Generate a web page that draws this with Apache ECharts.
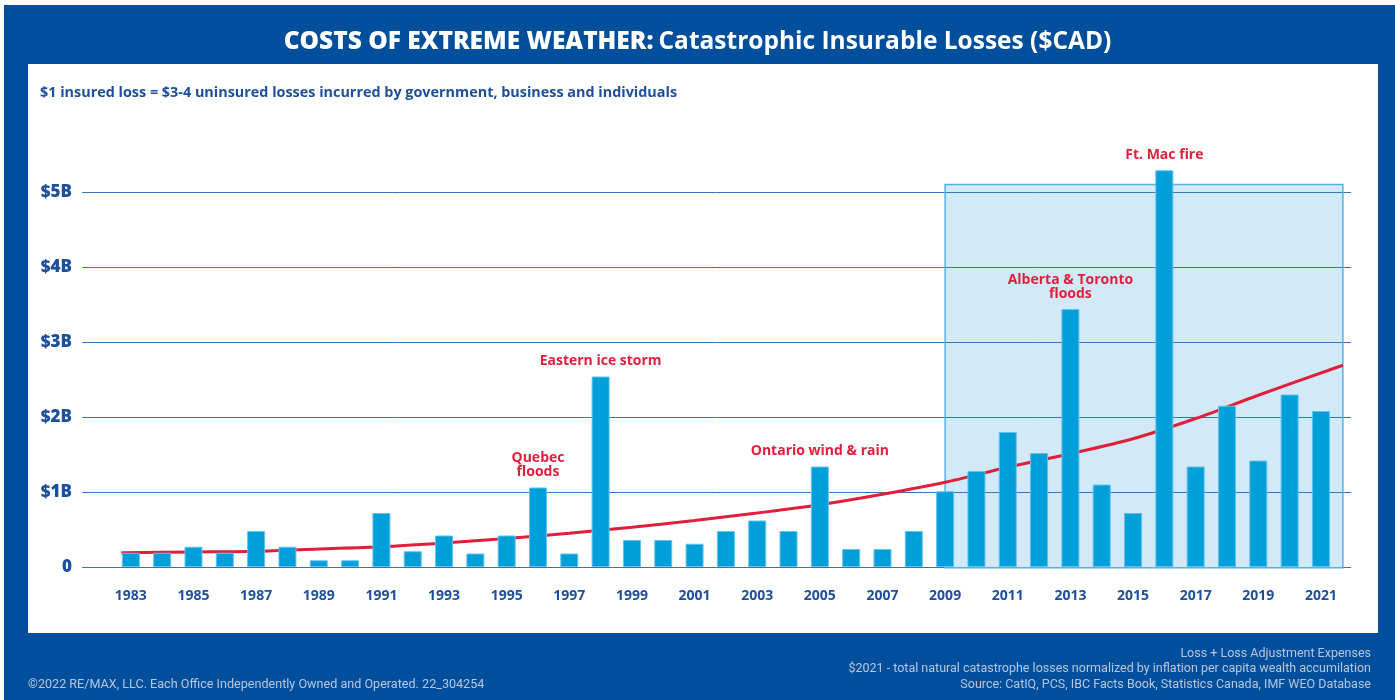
<!DOCTYPE html>
<html>
<head>
<meta charset="utf-8">
<script src="https://cdn.jsdelivr.net/npm/echarts@6/dist/echarts.min.js"></script>
<style>
  html, body { margin: 0; padding: 0; background: #004f9c; }
  #chart { width: 1395px; height: 700px; }
</style>
</head>
<body>
<div id="chart"></div>
<script>
// years and losses ($B, 2021 dollars)
var years = [1983, 1984, 1985, 1986, 1987, 1988, 1989, 1990, 1991, 1992,
  1993, 1994, 1995, 1996, 1997, 1998, 1999, 2000, 2001, 2002,
  2003, 2004, 2005, 2006, 2007, 2008, 2009, 2010, 2011, 2012,
  2013, 2014, 2015, 2016, 2017, 2018, 2019, 2020, 2021];
var losses = [0.19, 0.19, 0.27, 0.19, 0.48, 0.27, 0.09, 0.09, 0.72, 0.21,
  0.42, 0.18, 0.42, 1.06, 0.18, 2.54, 0.36, 0.36, 0.31, 0.48,
  0.62, 0.48, 1.34, 0.24, 0.24, 0.48, 1.01, 1.28, 1.80, 1.52,
  3.44, 1.10, 0.72, 5.29, 1.34, 2.15, 1.42, 2.30, 2.08];

// red trend curve
var trendYears = [1982.7, 1985, 1987, 1989, 1991, 1993, 1995, 1997, 1999, 2001,
  2003, 2005, 2007, 2009, 2011, 2013, 2015, 2017, 2019, 2021.7];
var trendValues = [0.19, 0.20, 0.21, 0.24, 0.27, 0.32, 0.38, 0.45, 0.53, 0.62,
  0.72, 0.83, 0.97, 1.13, 1.33, 1.51, 1.71, 1.98, 2.29, 2.69];

// event notes
var noteYears = [1996, 1998, 2005, 2013, 2016];
var noteTexts = ['Quebec\nfloods', 'Eastern ice storm', 'Ontario wind & rain', 'Alberta & Toronto\nfloods', 'Ft. Mac fire'];

// highlighted period: [from year, to year, bottom, top]
var highlight = [[2009, 2021.7, -0.01, 5.1]];

var xLabelYears = [1983, 1985, 1987, 1989, 1991, 1993, 1995, 1997, 1999, 2001,
  2003, 2005, 2007, 2009, 2011, 2013, 2015, 2017, 2019, 2021];

var myChart = echarts.init(document.getElementById('chart'));

var blue = '#1c4f9c';
var red = '#e01f3b';

var barData = [];
for (var i = 0; i < years.length; i++) {
  var item = { value: [years[i], losses[i]] };
  var k = noteYears.indexOf(years[i]);
  if (k >= 0) {
    item.label = { show: true, formatter: noteTexts[k] };
  }
  barData.push(item);
}

var trendData = [];
for (var j = 0; j < trendYears.length; j++) {
  trendData.push([trendYears[j], trendValues[j]]);
}

var option = {
  backgroundColor: '#004f9c',
  animation: false,
  title: [
    {
      text: '{a|COSTS OF EXTREME WEATHER:} {b|Catastrophic Insurable Losses ($CAD)}',
      left: 'center',
      top: 25,
      textStyle: {
        rich: {
          a: { color: '#fff', fontFamily: 'Open Sans', fontWeight: 800, fontSize: 24.5 },
          b: { color: '#fff', fontFamily: 'Open Sans', fontWeight: 700, fontSize: 24.5 }
        }
      }
    },
    {
      text: '$1 insured loss = $3-4 uninsured losses incurred by government, business and individuals',
      left: 35,
      top: 81,
      textStyle: { color: blue, fontFamily: 'Open Sans', fontWeight: 700, fontSize: 14.4 }
    }
  ],
  graphic: [
    { type: 'rect', z: -20, shape: { x: 0, y: 0, width: 1395, height: 5 }, style: { fill: '#ffffff' } },
    { type: 'rect', z: -20, shape: { x: 0, y: 0, width: 4, height: 700 }, style: { fill: '#ffffff' } },
    { type: 'rect', z: -10, shape: { x: 28, y: 64, width: 1350, height: 569 }, style: { fill: '#ffffff' } },
    {
      type: 'text', x: 28, y: 678,
      style: { text: '©2022 RE/MAX, LLC. Each Office Independently Owned and Operated. 22_304254', fill: '#b9c7de', font: '12.6px Roboto' }
    },
    {
      type: 'text', x: 1371, y: 646,
      style: {
        text: 'Loss + Loss Adjustment Expenses\n$2021 - total natural catastrophe losses normalized by inflation per capita wealth accumilation\nSource: CatIQ, PCS, IBC Facts Book, Statistics Canada, IMF WEO Database',
        fill: '#b9c7de', font: '12.5px Roboto', lineHeight: 15.5, align: 'right', verticalAlign: 'top'
      }
    }
  ],
  grid: { left: 82, right: 44, top: 192, bottom: 133 },
  xAxis: {
    type: 'value',
    min: 1981.44,
    max: 2021.96,
    axisLine: { show: false },
    axisTick: { show: false },
    splitLine: { show: false },
    axisLabel: {
      customValues: xLabelYears,
      color: blue,
      fontFamily: 'Open Sans',
      fontWeight: 700,
      fontSize: 14,
      margin: 22,
      formatter: function (v) { return String(v); }
    }
  },
  yAxis: {
    type: 'value',
    min: 0,
    max: 5,
    interval: 1,
    axisLine: { show: false },
    axisTick: { show: false },
    splitLine: { lineStyle: { color: '#3a72b8', width: 1 } },
    axisLabel: {
      color: blue,
      fontFamily: 'Open Sans',
      fontWeight: 800,
      fontSize: 17,
      margin: 10,
      formatter: function (v) { return v === 0 ? '0' : '$' + v + 'B'; }
    }
  },
  series: [
    {
      name: 'highlight',
      type: 'custom',
      z: 1,
      silent: true,
      clip: false,
      data: highlight,
      renderItem: function (params, api) {
        var p0 = api.coord([api.value(0), api.value(3)]);
        var p1 = api.coord([api.value(1), api.value(2)]);
        return {
          type: 'rect',
          shape: { x: p0[0], y: p0[1], width: p1[0] - p0[0], height: p1[1] - p0[1] },
          style: { fill: 'rgba(31,143,216,0.2)', stroke: '#56b2e4', lineWidth: 1.5 }
        };
      }
    },
    {
      name: 'trend',
      type: 'line',
      z: 2,
      smooth: 0.3,
      symbol: 'none',
      clip: false,
      data: trendData,
      lineStyle: { color: red, width: 3 }
    },
    {
      name: 'losses',
      type: 'bar',
      z: 3,
      clip: false,
      barWidth: 18,
      data: barData,
      itemStyle: { color: '#009fda', borderColor: '#63c3ec', borderWidth: 1 },
      label: {
        show: false,
        position: 'top',
        distance: 8,
        color: red,
        fontFamily: 'Open Sans',
        fontWeight: 700,
        fontSize: 14,
        lineHeight: 14,
        align: 'center'
      }
    }
  ]
};

myChart.setOption(option);
window.addEventListener('resize', function () {
  myChart.resize();
});
</script>
</body>
</html>
